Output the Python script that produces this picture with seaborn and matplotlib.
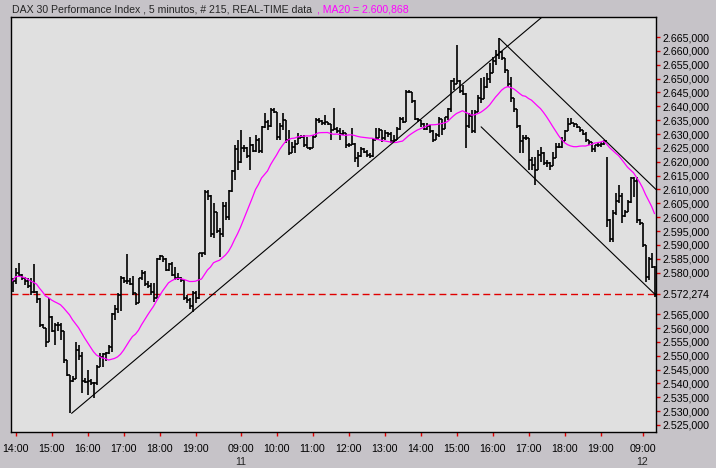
import matplotlib
matplotlib.use("Agg")
import matplotlib.pyplot as plt
import numpy as np
import pandas as pd
import seaborn as sns


TITLE = "DAX 30 Performance Index , 5 minutos, # 215, REAL-TIME data"
MA_PERIOD = 20
MA20_LAST = 2600.868
LAST_PRICE = 2572.274

# sessions: day of month, first bar time, number of 5-minute bars
SESSION_DAYS = [10, 11, 12]
SESSION_START = ["13:55", "09:00", "09:00"]
SESSION_BARS = [76, 134, 5]

# bar data (bars 0..214)
HIGH = [
    2578.0, 2581.5, 2583.5, 2579.5, 2578.5, 2578.0, 2578.0, 2583.0, 2573.5, 2571.0,
    2561.5, 2560.0, 2571.0, 2564.5, 2561.7, 2562.0, 2561.7, 2559.0, 2548.5, 2543.0,
    2542.5, 2555.0, 2554.0, 2551.5, 2542.0, 2545.0, 2541.5, 2540.5, 2546.5, 2551.0,
    2551.0, 2551.5, 2554.0, 2565.3, 2568.3, 2572.6, 2578.6, 2578.5, 2586.6, 2578.0,
    2578.6, 2572.6, 2578.0, 2581.0, 2580.5, 2576.8, 2576.2, 2576.2, 2585.2, 2586.2,
    2586.0, 2585.2, 2583.4, 2584.0, 2582.0, 2579.7, 2578.5, 2577.5, 2572.0, 2571.0,
    2573.5, 2573.5, 2587.0, 2587.0, 2609.8, 2609.8, 2608.0, 2605.0, 2602.0, 2596.0,
    2605.6, 2605.6, 2609.8, 2617.0, 2626.0, 2627.8, 2631.5, 2626.0, 2625.4, 2629.0,
    2626.5, 2629.7, 2628.4, 2633.0, 2637.5, 2635.0, 2639.3, 2639.3, 2638.0, 2633.9,
    2637.5, 2635.0, 2631.5, 2627.2, 2627.8, 2630.3, 2629.7, 2629.5, 2629.0, 2625.4,
    2629.7, 2635.7, 2635.7, 2635.0, 2636.9, 2634.5, 2633.8, 2639.3, 2632.5, 2632.1,
    2631.5, 2630.5, 2626.6, 2632.1, 2626.6, 2623.6, 2625.4, 2624.8, 2624.2, 2623.0,
    2628.5, 2632.1, 2632.1, 2631.5, 2631.5, 2630.9, 2630.9, 2629.7, 2632.7, 2636.3,
    2636.3, 2645.9, 2645.9, 2645.3, 2642.3, 2635.7, 2635.1, 2633.9, 2633.9, 2633.3,
    2631.5, 2630.3, 2636.3, 2635.5, 2636.3, 2639.3, 2649.5, 2650.1, 2662.1, 2649.5,
    2647.7, 2644.7, 2637.5, 2638.7, 2638.7, 2644.1, 2650.1, 2650.7, 2651.9, 2655.5,
    2657.9, 2660.3, 2664.6, 2660.0, 2657.5, 2653.0, 2650.7, 2643.0, 2639.0, 2633.3,
    2629.7, 2629.7, 2628.5, 2621.8, 2621.8, 2624.2, 2625.4, 2623.6, 2620.6, 2620.0,
    2623.6, 2626.6, 2626.6, 2629.1, 2631.5, 2635.7, 2635.7, 2634.0, 2633.5, 2632.5,
    2631.5, 2630.9, 2628.0, 2627.0, 2626.0, 2626.6, 2627.2, 2627.8, 2621.8, 2599.5,
    2602.6, 2608.6, 2611.6, 2608.6, 2602.6, 2606.2, 2614.6, 2614.6, 2614.6, 2599.5,
    2598.0, 2590.0, 2585.8, 2587.0, 2582.2,
]
LOW = [
    2573.0, 2576.0, 2578.5, 2577.5, 2575.5, 2574.5, 2572.0, 2572.5, 2569.0, 2560.5,
    2560.0, 2553.0, 2555.0, 2558.5, 2554.0, 2559.0, 2555.5, 2547.3, 2542.5, 2529.2,
    2540.5, 2541.5, 2548.5, 2536.5, 2540.0, 2536.0, 2539.5, 2534.7, 2539.5, 2546.0,
    2546.0, 2548.0, 2550.5, 2551.5, 2563.0, 2565.3, 2566.0, 2576.2, 2576.0, 2575.6,
    2572.0, 2568.3, 2569.0, 2577.5, 2575.0, 2574.4, 2572.0, 2569.5, 2571.0, 2584.6,
    2584.0, 2580.4, 2580.4, 2578.6, 2577.4, 2577.4, 2576.5, 2570.1, 2569.0, 2567.0,
    2565.8, 2569.0, 2570.5, 2585.8, 2586.5, 2606.2, 2593.0, 2592.4, 2594.2, 2585.7,
    2593.0, 2599.0, 2599.0, 2609.0, 2613.4, 2617.0, 2619.5, 2623.6, 2621.2, 2617.0,
    2623.6, 2623.5, 2623.0, 2623.0, 2632.1, 2631.5, 2632.7, 2637.5, 2627.8, 2627.8,
    2631.5, 2626.6, 2622.4, 2623.0, 2623.0, 2626.5, 2628.5, 2625.4, 2624.8, 2624.2,
    2624.8, 2629.0, 2633.9, 2633.3, 2633.3, 2633.3, 2628.0, 2631.5, 2630.3, 2627.8,
    2629.7, 2624.8, 2625.4, 2626.0, 2620.0, 2618.2, 2621.8, 2623.0, 2621.8, 2621.2,
    2621.8, 2627.8, 2628.5, 2627.2, 2627.8, 2629.1, 2626.6, 2626.6, 2627.8, 2631.5,
    2633.9, 2634.5, 2644.7, 2641.1, 2635.1, 2634.5, 2632.7, 2631.5, 2631.5, 2630.3,
    2627.2, 2628.0, 2629.1, 2629.7, 2632.0, 2635.1, 2638.0, 2645.9, 2648.0, 2644.7,
    2644.1, 2624.8, 2632.1, 2630.3, 2630.3, 2638.0, 2641.1, 2642.5, 2646.5, 2648.3,
    2652.0, 2655.0, 2657.0, 2656.7, 2651.9, 2647.1, 2641.7, 2638.1, 2632.1, 2623.0,
    2623.0, 2627.8, 2617.0, 2617.0, 2611.6, 2617.0, 2620.0, 2618.8, 2618.2, 2617.0,
    2618.5, 2621.5, 2624.8, 2624.8, 2627.5, 2631.0, 2633.5, 2632.7, 2632.1, 2630.9,
    2629.7, 2627.2, 2626.0, 2623.6, 2623.6, 2625.4, 2625.4, 2626.0, 2596.6, 2591.2,
    2591.2, 2600.8, 2605.0, 2597.8, 2600.2, 2602.0, 2605.0, 2607.4, 2597.8, 2597.2,
    2589.4, 2576.7, 2577.3, 2581.6, 2571.3,
]
CLOSE = [
    2577.0, 2580.0, 2579.0, 2578.0, 2577.0, 2575.0, 2573.0, 2573.0, 2570.5, 2561.0,
    2560.0, 2555.0, 2564.0, 2559.0, 2561.0, 2561.0, 2559.0, 2548.5, 2543.0, 2541.0,
    2541.5, 2552.0, 2550.0, 2541.0, 2540.5, 2541.0, 2540.0, 2540.0, 2546.0, 2549.5,
    2550.5, 2551.0, 2553.0, 2565.0, 2567.0, 2572.0, 2578.0, 2577.0, 2577.0, 2576.0,
    2572.5, 2569.0, 2578.0, 2580.0, 2576.0, 2575.0, 2573.0, 2571.0, 2585.0, 2586.0,
    2585.0, 2581.0, 2583.0, 2579.0, 2578.0, 2578.0, 2577.3, 2571.0, 2570.0, 2568.0,
    2572.5, 2571.0, 2586.9, 2586.9, 2609.0, 2607.5, 2594.0, 2602.0, 2595.0, 2594.0,
    2604.0, 2600.0, 2609.5, 2616.5, 2624.5, 2620.0, 2625.0, 2625.0, 2622.0, 2626.0,
    2624.0, 2628.0, 2624.0, 2632.5, 2634.5, 2633.0, 2638.5, 2638.0, 2629.0, 2633.0,
    2635.0, 2628.0, 2623.0, 2625.5, 2626.5, 2628.5, 2629.0, 2626.0, 2625.0, 2625.0,
    2629.0, 2635.0, 2634.8, 2634.0, 2634.5, 2633.8, 2631.5, 2632.0, 2631.0, 2630.0,
    2630.5, 2626.0, 2626.0, 2626.5, 2621.5, 2622.0, 2624.5, 2623.5, 2622.5, 2622.0,
    2628.0, 2628.5, 2631.5, 2628.5, 2630.5, 2630.0, 2627.5, 2628.0, 2632.0, 2635.5,
    2634.5, 2645.0, 2645.3, 2642.0, 2635.5, 2635.0, 2633.5, 2632.0, 2633.0, 2631.0,
    2628.0, 2629.5, 2635.5, 2632.0, 2636.0, 2639.0, 2649.0, 2648.0, 2649.0, 2645.5,
    2644.5, 2633.0, 2636.5, 2631.0, 2638.0, 2643.0, 2642.5, 2647.0, 2650.0, 2652.0,
    2656.5, 2658.5, 2659.5, 2657.5, 2653.0, 2648.0, 2643.0, 2639.0, 2633.0, 2627.5,
    2628.5, 2628.5, 2620.5, 2619.0, 2617.0, 2622.5, 2623.0, 2619.5, 2619.5, 2618.5,
    2621.5, 2625.5, 2625.5, 2627.5, 2631.0, 2633.5, 2634.0, 2633.5, 2632.5, 2631.5,
    2630.0, 2628.0, 2627.0, 2624.5, 2626.0, 2626.0, 2626.5, 2627.5, 2599.0, 2592.0,
    2601.5, 2606.0, 2607.5, 2600.5, 2602.0, 2605.5, 2614.0, 2613.0, 2599.0, 2598.0,
    2590.0, 2578.5, 2585.0, 2582.0, 2572.274,
]

# hand-drawn trend lines: (bar index, price) at both ends
TREND_UP_X = [19.7, 176.5]
TREND_UP_Y = [2529.2, 2672.2]
CHANNEL_TOP_X = [162.3, 214.5]
CHANNEL_TOP_Y = [2664.5, 2610.0]
CHANNEL_LOW_X = [156.2, 214.5]
CHANNEL_LOW_Y = [2632.6, 2571.8]

Y_MIN, Y_MAX = 2522.47, 2672.24
Y_TICKS = [2525 + 5 * k for k in range(29) if 2525 + 5 * k not in (2570, 2575)]


def fmt_price(v):
    s = f"{v:,.3f}"
    return s.replace(",", "#").replace(".", ",").replace("#", ".")


times = []
for day, start, n in zip(SESSION_DAYS, SESSION_START, SESSION_BARS):
    t0 = pd.Timestamp(f"2000-01-{day:02d} {start}")
    times += list(pd.date_range(t0, periods=n, freq="5min"))

df = pd.DataFrame({"bar": np.arange(len(CLOSE)), "high": HIGH, "low": LOW, "close": CLOSE, "time": times})
df["ma"] = df["close"].rolling(MA_PERIOD, min_periods=1).mean()

tick_idx = [i for i, t in enumerate(times) if t.minute == 0 and t.hour < 20]
tick_lbl = [times[i].strftime("%H:%M") for i in tick_idx]
day_marks = []
for day in SESSION_DAYS[1:]:
    first = df.index[(df["time"].dt.day == day)][0]
    day_marks.append((first, str(day)))

sns.set_theme(style="ticks")
plt.rcParams["font.family"] = ["Liberation Sans", "DejaVu Sans"]

BG_OUT = "#c6c3c8"
BG_IN = "#e0e0e0"
FS = 7.7

fig = plt.figure(figsize=(7.16, 4.68), dpi=100, facecolor=BG_OUT)
ax = fig.add_axes([11 / 716, 36 / 468, 645 / 716, 415 / 468])
ax.set_facecolor(BG_IN)

ax.axhline(LAST_PRICE, color="#e00000", lw=1.0, linestyle=(0, (5.0, 2.9)), zorder=1)

ax.vlines(df["bar"], df["low"], df["high"], color="black", lw=1.2, zorder=3)
ax.hlines(df["close"], df["bar"], df["bar"] + 1, color="black", lw=1.2, zorder=3)

sns.lineplot(x=df["bar"], y=df["ma"], color="#ff00ff", lw=0.9, ax=ax, zorder=4)

for xs, ys in [(TREND_UP_X, TREND_UP_Y), (CHANNEL_TOP_X, CHANNEL_TOP_Y), (CHANNEL_LOW_X, CHANNEL_LOW_Y)]:
    ax.plot(xs, ys, color="black", lw=0.8, zorder=5)

ax.set_xlim(-0.5, len(CLOSE) - 0.5)
ax.set_ylim(Y_MIN, Y_MAX)
ax.set_xlabel("")
ax.set_ylabel("")

yt = sorted(Y_TICKS + [LAST_PRICE])
ax.yaxis.tick_right()
ax.set_yticks(yt, labels=[fmt_price(v) for v in yt])
for lbl in ax.get_yticklabels():
    if lbl.get_text() == fmt_price(LAST_PRICE):
        lbl.set_color("#e00000")
ax.set_xticks(tick_idx, labels=tick_lbl)
ax.tick_params(axis="both", direction="out", length=3, width=1, color="#e00000",
               labelcolor="black", labelsize=FS)
ax.tick_params(axis="y", pad=2)
ax.tick_params(axis="x", pad=5.5)
for i, day in day_marks:
    ax.annotate(day, xy=(i, 0), xycoords=("data", "axes fraction"), xytext=(0, -33),
                textcoords="offset pixels", ha="center", va="baseline", fontsize=FS)

for sp in ax.spines.values():
    sp.set_visible(True)
    sp.set_color("black")
    sp.set_linewidth(1)

t1 = fig.text(12 / 716, 1 - 13 / 468, TITLE, fontsize=FS - 0.1, ha="left", va="baseline")
ax.annotate(f", MA20 = {fmt_price(MA20_LAST)}", xy=(1, 0), xycoords=t1, xytext=(5, 0),
            textcoords="offset pixels", ha="left", va="bottom", fontsize=FS - 0.1, color="#ff00ff")

fig.savefig("out.png", dpi=100, facecolor=fig.get_facecolor())
